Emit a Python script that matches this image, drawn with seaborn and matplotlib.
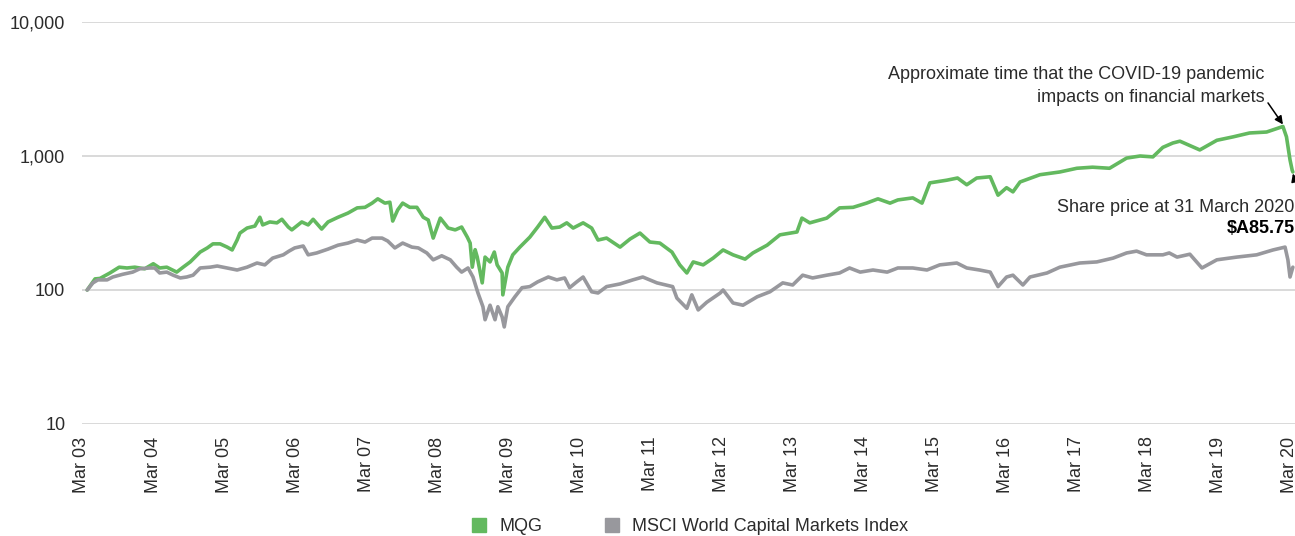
import numpy as np
import pandas as pd
import matplotlib
matplotlib.use("Agg")
import matplotlib.pyplot as plt
from matplotlib.lines import Line2D
import seaborn as sns

# ---------------- data (decimal years, index values) ----------------
mqg_t = [2003.24, 2003.35, 2003.42, 2003.56, 2003.69, 2003.80, 2003.91, 2004.05, 2004.17, 2004.26,
         2004.36, 2004.50, 2004.59, 2004.69, 2004.83, 2004.93, 2005.01, 2005.11, 2005.21, 2005.28,
         2005.35, 2005.39, 2005.49, 2005.60, 2005.67, 2005.71, 2005.81, 2005.91, 2005.98, 2006.07,
         2006.12, 2006.26, 2006.35, 2006.42, 2006.54, 2006.63, 2006.77, 2006.91, 2007.04, 2007.15,
         2007.25, 2007.33, 2007.43, 2007.50, 2007.54, 2007.61, 2007.68, 2007.78, 2007.88, 2007.97,
         2008.04, 2008.11, 2008.21, 2008.32, 2008.42, 2008.51, 2008.59, 2008.63, 2008.66, 2008.70,
         2008.73, 2008.80, 2008.84, 2008.91, 2008.97, 2009.01, 2009.08, 2009.09, 2009.16, 2009.23,
         2009.33, 2009.47, 2009.58, 2009.68, 2009.78, 2009.89, 2009.99, 2010.08, 2010.22, 2010.34,
         2010.43, 2010.55, 2010.74, 2010.88, 2011.02, 2011.16, 2011.30, 2011.47, 2011.58, 2011.68,
         2011.77, 2011.91, 2012.05, 2012.19, 2012.33, 2012.50, 2012.61, 2012.81, 2012.99, 2013.23,
         2013.30, 2013.41, 2013.65, 2013.83, 2014.02, 2014.21, 2014.37, 2014.54, 2014.65, 2014.86,
         2014.99, 2015.10, 2015.34, 2015.49, 2015.62, 2015.76, 2015.95, 2016.06, 2016.18, 2016.27,
         2016.37, 2016.65, 2016.93, 2017.17, 2017.39, 2017.63, 2017.87, 2018.06, 2018.24, 2018.38,
         2018.52, 2018.62, 2018.90, 2019.14, 2019.37, 2019.60, 2019.84, 2020.07, 2020.12, 2020.17,
         2020.20, 2020.21]
mqg_v = [100, 121, 122, 134, 148, 146, 148, 144, 157, 146,
         148, 136, 148, 162, 192, 206, 221, 221, 209, 199,
         236, 266, 290, 300, 349, 306, 322, 317, 337, 295,
         281, 322, 306, 337, 285, 322, 349, 375, 410, 414,
         445, 479, 445, 452, 327, 396, 445, 414, 414, 349,
         333, 244, 344, 290, 281, 295, 248, 224, 148, 200,
         176, 113, 176, 162, 192, 154, 134, 92, 148, 183,
         209, 248, 295, 349, 290, 295, 317, 290, 317, 290,
         236, 244, 209, 240, 266, 228, 224, 192, 154, 134,
         162, 154, 173, 199, 183, 170, 189, 216, 258, 271,
         344, 317, 344, 410, 414, 445, 479, 445, 470, 487,
         445, 630, 660, 685, 610, 685, 700, 510, 580, 540,
         640, 725, 760, 810, 825, 810, 965, 1000, 985, 1160,
         1250, 1290, 1110, 1310, 1390, 1485, 1510, 1660, 1390, 935,
         785, 760]

msci_t = [2003.24, 2003.32, 2003.39, 2003.52, 2003.60, 2003.74, 2003.88, 2003.98, 2004.12, 2004.19,
          2004.26, 2004.36, 2004.45, 2004.55, 2004.64, 2004.73, 2004.83, 2004.97, 2005.07, 2005.21,
          2005.35, 2005.49, 2005.63, 2005.74, 2005.85, 2006.00, 2006.08, 2006.16, 2006.28, 2006.35,
          2006.47, 2006.63, 2006.77, 2006.91, 2007.04, 2007.15, 2007.25, 2007.39, 2007.47, 2007.57,
          2007.68, 2007.81, 2007.90, 2008.02, 2008.11, 2008.23, 2008.35, 2008.44, 2008.51, 2008.60,
          2008.67, 2008.74, 2008.81, 2008.84, 2008.91, 2008.98, 2009.02, 2009.08, 2009.11, 2009.16,
          2009.26, 2009.36, 2009.47, 2009.58, 2009.73, 2009.85, 2009.96, 2010.03, 2010.13, 2010.22,
          2010.34, 2010.43, 2010.55, 2010.74, 2010.92, 2011.06, 2011.26, 2011.48, 2011.54, 2011.68,
          2011.75, 2011.84, 2011.96, 2012.15, 2012.19, 2012.33, 2012.47, 2012.67, 2012.85, 2013.03,
          2013.17, 2013.31, 2013.45, 2013.65, 2013.83, 2013.97, 2014.12, 2014.30, 2014.50, 2014.65,
          2014.86, 2015.06, 2015.24, 2015.48, 2015.62, 2015.80, 2015.95, 2016.06, 2016.18, 2016.27,
          2016.41, 2016.51, 2016.75, 2016.93, 2017.21, 2017.45, 2017.68, 2017.87, 2018.01, 2018.15,
          2018.38, 2018.47, 2018.58, 2018.76, 2018.93, 2019.14, 2019.42, 2019.70, 2019.93, 2020.10,
          2020.14, 2020.17, 2020.21]
msci_v = [100, 113, 119, 119, 125, 131, 136, 144, 146, 146,
          134, 136, 129, 123, 125, 129, 146, 148, 151, 146,
          141, 148, 159, 154, 173, 183, 195, 206, 213, 183,
          189, 202, 216, 224, 236, 228, 244, 244, 232, 206,
          224, 209, 206, 189, 168, 180, 168, 148, 136, 146,
          125, 95, 75, 60, 77, 60, 75, 63, 53, 75,
          89, 104, 106, 115, 125, 119, 123, 104, 115, 125,
          97, 95, 106, 111, 119, 125, 113, 106, 87, 73,
          92, 71, 81, 95, 100, 80, 77, 89, 97, 113,
          109, 129, 123, 129, 134, 146, 136, 141, 136, 146,
          146, 141, 154, 159, 146, 141, 136, 106, 125, 129,
          109, 125, 134, 148, 159, 162, 173, 189, 195, 183,
          183, 189, 176, 185, 146, 168, 176, 183, 199, 209,
          168, 125, 148]

series_names = ["MQG", "MSCI World Capital Markets Index"]
series_colors = ["#63b95f", "#98989d"]

tick_years = list(range(2003, 2021))
tick_labels = ["Mar 03", "Mar 04", "Mar 05", "Mar 06", "Mar 07", "Mar 08", "Mar 09", "Mar 10", "Mar 11",
               "Mar 12", "Mar 13", "Mar 14", "Mar 15", "Mar 16", "Mar 17", "Mar 18", "Mar 19", "Mar 20"]
y_ticks = [10, 100, 1000, 10000]
y_tick_labels = ["10", "100", "1,000", "10,000"]

# ---------------- build frame ----------------
df = pd.concat([
    pd.DataFrame({"t": mqg_t, "value": mqg_v, "series": series_names[0]}),
    pd.DataFrame({"t": msci_t, "value": msci_v, "series": series_names[1]}),
], ignore_index=True)

sns.set_theme(style="white")
plt.rcParams["font.family"] = ["Liberation Sans", "DejaVu Sans"]
text_color = "#2b2b2b"

fig = plt.figure(figsize=(12.95, 5.36), dpi=100)
ax = fig.add_axes([82 / 1295, (536 - 424) / 536, 1 - 82 / 1295, (424 - 22) / 536])

sns.lineplot(data=df, x="t", y="value", hue="series", palette=series_colors,
             hue_order=series_names, estimator=None, sort=False, linewidth=2.6,
             legend=False, ax=ax)

ax.set_yscale("log")
ax.set_ylim(10, 10000)
ax.set_xlim(2003 + 2 / 12, 2020.24)
ax.set_yticks(y_ticks)
ax.set_yticklabels(y_tick_labels)
ax.yaxis.set_minor_locator(matplotlib.ticker.NullLocator())
ax.set_xticks([y + 2 / 12 for y in tick_years])
ax.set_xticklabels(tick_labels, rotation=90, va="top", ha="center")
ax.tick_params(axis="y", length=0, pad=12, labelsize=13, labelcolor=text_color)
ax.tick_params(axis="x", length=0, pad=9, labelsize=13, labelcolor=text_color)
ax.set_xlabel("")
ax.set_ylabel("")
for s in ax.spines.values():
    s.set_visible(False)
ax.yaxis.grid(True, color="#cfcfcf", linewidth=1.1)
ax.xaxis.grid(False)
ax.set_axisbelow(True)

# annotations
ax.text(2019.815, 3330, "Approximate time that the COVID-19 pandemic\nimpacts on financial markets",
        ha="right", va="center", multialignment="right", fontsize=13, color=text_color,
        linespacing=1.5)
ax.annotate("", xy=(2020.07, 1720), xytext=(2019.86, 2490),
            arrowprops=dict(arrowstyle="-|>", color="black", lw=1.1, mutation_scale=12,
                            shrinkA=0, shrinkB=0))
ax.text(2020.235, 416, "Share price at 31 March 2020", ha="right", va="center",
        fontsize=13, color=text_color, clip_on=False)
ax.text(2020.235, 290, "$A85.75", ha="right", va="center", fontsize=13,
        fontweight="bold", color="black", clip_on=False)
ax.annotate("", xy=(2020.21, 740), xytext=(2020.32, 470),
            arrowprops=dict(arrowstyle="-|>", color="black", lw=1.1, mutation_scale=12,
                            shrinkA=0, shrinkB=0), annotation_clip=False)

# legend
handles = [Line2D([], [], linestyle="none", marker="s", markersize=10,
                  markerfacecolor=c, markeredgecolor=c) for c in series_colors]
fig.legend(handles, series_names, loc="center", bbox_to_anchor=(0.5324, 0.017), ncol=2,
           frameon=False, fontsize=13, handlelength=0.9, handletextpad=0.65,
           columnspacing=3.4, labelcolor=text_color)

fig.savefig("out.png", dpi=100)
